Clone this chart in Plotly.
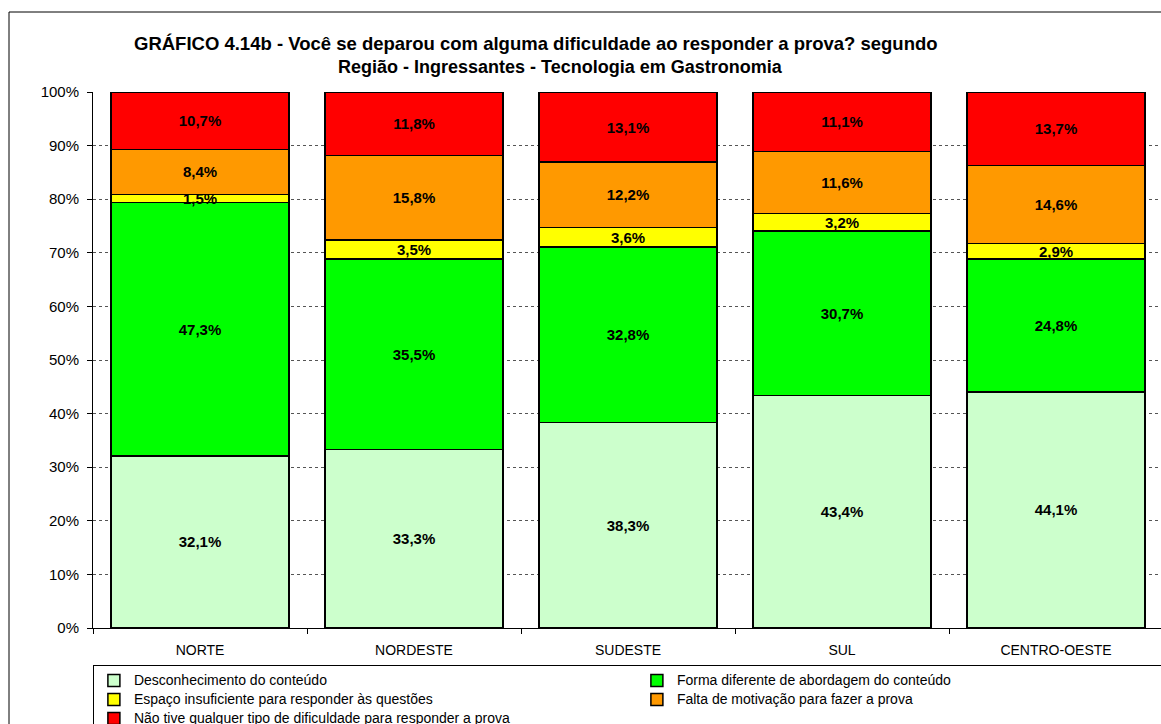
import plotly.graph_objects as go

regioes = ["NORTE", "NORDESTE", "SUDESTE", "SUL", "CENTRO-OESTE"]

desconhecimento = [32.1, 33.3, 38.3, 43.4, 44.1]
forma_diferente = [47.3, 35.5, 32.8, 30.7, 24.8]
espaco_insuficiente = [1.5, 3.5, 3.6, 3.2, 2.9]
falta_motivacao = [8.4, 15.8, 12.2, 11.6, 14.6]
sem_dificuldade = [10.7, 11.8, 13.1, 11.1, 13.7]

series = [
    ("Desconhecimento do conteúdo", desconhecimento, "#CCFFCC"),
    ("Forma diferente de abordagem do conteúdo", forma_diferente, "#00FF00"),
    ("Espaço insuficiente para responder às questões", espaco_insuficiente, "#FFFF00"),
    ("Falta de motivação para fazer a prova", falta_motivacao, "#FF9900"),
    ("Não tive qualquer tipo de dificuldade para responder a prova", sem_dificuldade, "#FF0000"),
]

FONT = "Liberation Sans, Arial, sans-serif"

fig = go.Figure()
for nome, valores, cor in series:
    fig.add_trace(go.Bar(
        x=regioes,
        y=valores,
        # legend text is drawn at 14px while rows stay compact
        name=f'<span style="font-size:14px">{nome}</span>',
        marker=dict(color=cor, line=dict(color="black", width=1.5)),
        text=[f"{v:.1f}%".replace(".", ",") for v in valores],
        textposition="inside",
        insidetextanchor="middle",
        constraintext="none",
        textfont=dict(family=FONT, size=15, color="black", weight="bold"),
        hoverinfo="skip",
    ))

W, H = 1161, 724
ML, MT, MB = 93, 92, 96
plot_w = W - ML
plot_h = H - MT - MB


def px_x(x):
    return (x - ML) / plot_w


def px_y(y):
    return (H - MB - y) / plot_h


fig.update_layout(
    width=W,
    height=H,
    barmode="stack",
    barnorm="percent",
    bargap=0.17,
    plot_bgcolor="white",
    paper_bgcolor="white",
    margin=dict(l=ML, r=0, t=MT, b=MB, autoexpand=False),
    font=dict(family=FONT, size=14, color="black"),
    showlegend=True,
    legend=dict(
        orientation="h",
        traceorder="normal",
        x=-0.0001,
        xanchor="left",
        y=px_y(665),
        yanchor="top",
        entrywidth=498,
        entrywidthmode="pixels",
        bordercolor="black",
        borderwidth=1,
        bgcolor="white",
        font=dict(family=FONT, size=11, color="black"),
        itemclick=False,
    ),
    annotations=[
        dict(text="<b>GRÁFICO 4.14b - Você se deparou com alguma dificuldade ao responder a prova? segundo</b>",
             x=px_x(536), y=px_y(44), xref="paper", yref="paper", showarrow=False,
             xanchor="center", yanchor="middle",
             font=dict(family=FONT, size=18.5, color="black")),
        dict(text="<b>Região - Ingressantes - Tecnologia em Gastronomia</b>",
             x=px_x(560), y=px_y(67), xref="paper", yref="paper", showarrow=False,
             xanchor="center", yanchor="middle",
             font=dict(family=FONT, size=18, color="black")),
    ],
)

# outer chart frame
fig.add_shape(
    type="rect", xref="paper", yref="paper",
    x0=px_x(9), x1=1.2,
    y0=-0.5, y1=px_y(12),
    line=dict(color="black", width=1), fillcolor="rgba(0,0,0,0)", layer="below",
)

fig.update_xaxes(
    range=[-0.5, -0.5 + plot_w / 214],
    showline=True, linecolor="black", linewidth=1,
    ticks="outside", tickson="boundaries", ticklen=5, tickcolor="black",
    tickfont=dict(family=FONT, size=14, color="black"),
    ticklabelstandoff=9,
    showgrid=False,
)
fig.update_yaxes(
    range=[0, 100],
    tickvals=list(range(0, 101, 10)),
    ticktext=[f"{v}%" for v in range(0, 101, 10)],
    showline=True, linecolor="black", linewidth=1,
    ticks="outside", ticklen=5, tickcolor="black",
    tickfont=dict(family=FONT, size=15, color="black"),
    ticklabelstandoff=5,
    showgrid=True, gridcolor="#555555", gridwidth=1, griddash="dot",
    zeroline=False,
)

fig.write_html("out.html")
